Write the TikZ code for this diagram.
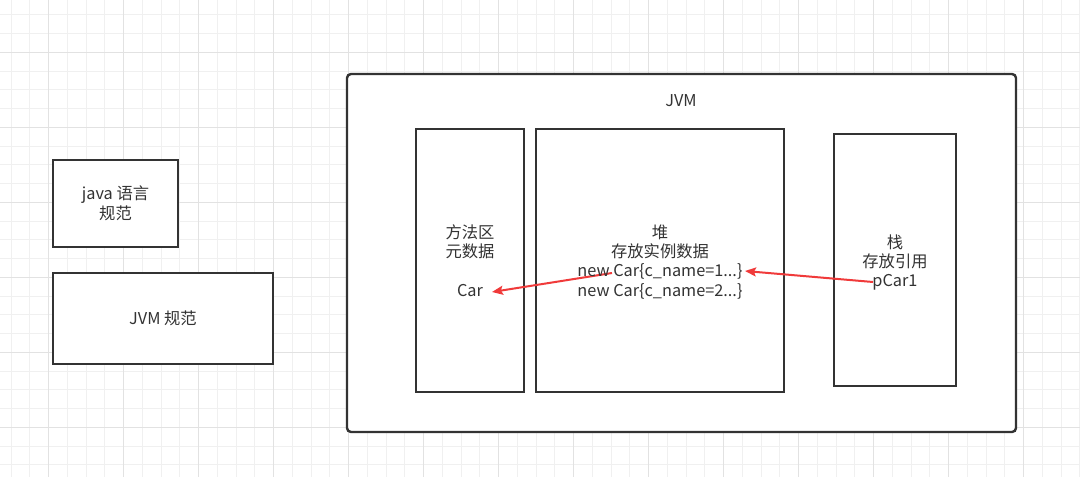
\documentclass[tikz,border=0pt]{standalone}
\usepackage{fontspec}
\setmainfont{Noto Sans CJK SC}
\usetikzlibrary{arrows.meta}
\definecolor{ink}{HTML}{333333}
\definecolor{gridminor}{HTML}{F0F0F0}
\definecolor{gridmajor}{HTML}{E2E2E2}
\definecolor{arrowred}{HTML}{F03A3A}
\tikzset{
  box/.style={draw=ink, line width=2.4pt, fill=white, rectangle, inner sep=0pt},
  lbl/.style={text=ink, font=\fontsize{16.3}{19.5}\selectfont, align=center, inner sep=0pt},
  refarrow/.style={draw=arrowred, line width=2pt, -{Stealth[length=11pt,width=9pt,inset=2pt]}},
}
\begin{document}
\begin{tikzpicture}[x=1pt,y=-1pt]
\useasboundingbox (0,0) rectangle (1080,477);
\fill[white] (0,0) rectangle (1080,477);
% grid
\draw[gridminor, line width=1pt] foreach \i in {0,...,57} {(11+18.75*\i,0) -- (11+18.75*\i,477)};
\draw[gridminor, line width=1pt] foreach \i in {0,...,25} {(0,14.75+18.75*\i) -- (1080,14.75+18.75*\i)};
\draw[gridmajor, line width=1pt] foreach \i in {0,...,13} {(48.5+75*\i,0) -- (48.5+75*\i,477)};
\draw[gridmajor, line width=1pt] foreach \i in {0,...,5} {(0,52.25+75*\i) -- (1080,52.25+75*\i)};

% boxes
\node[box, minimum width=125, minimum height=87] (javaspec) at (115.5,203.5) {};
\node[box, minimum width=220, minimum height=91] (jvmspec) at (163,318.5) {};
\node[box, rounded corners=4pt, minimum width=669, minimum height=358] (jvm) at (681.5,253) {};
\node[box, minimum width=108, minimum height=263] (method) at (470,260.5) {};
\node[box, minimum width=248, minimum height=263] (heap) at (660,260.5) {};
\node[box, minimum width=122, minimum height=252] (stack) at (895,260) {};

% arrows (under the texts)
\coordinate (a1s) at (873,282);
\coordinate (a1e) at (745,271);
\coordinate (a2s) at (612,273);
\coordinate (a2e) at (492,292);
\draw[refarrow] (a1s) -- (a1e);
\draw[refarrow] (a2s) -- (a2e);

% texts
\node[lbl] (javatext) at (javaspec.center) {java 语言\\规范};
\node[lbl] (jvmspectext) at (jvmspec.center) {JVM 规范};
\node[lbl] (jvmtext) at (681,101) {JVM};
\node[lbl] (methodtext) at (470,242) {方法区\\元数据};
\node[lbl] (car) at (470,291) {Car};
\node[lbl] (heaptext) at (660,242) {堆\\存放实例数据};
\node[lbl] (nc1) at (660,271.5) {new Car\{c\_name=1...\}};
\node[lbl] (nc2) at (660,291) {new Car\{c\_name=2...\}};
\node[lbl] (stacktext) at (895,252) {栈\\存放引用};
\node[lbl] (pcar) at (895,282) {pCar1};
\end{tikzpicture}
\end{document}
